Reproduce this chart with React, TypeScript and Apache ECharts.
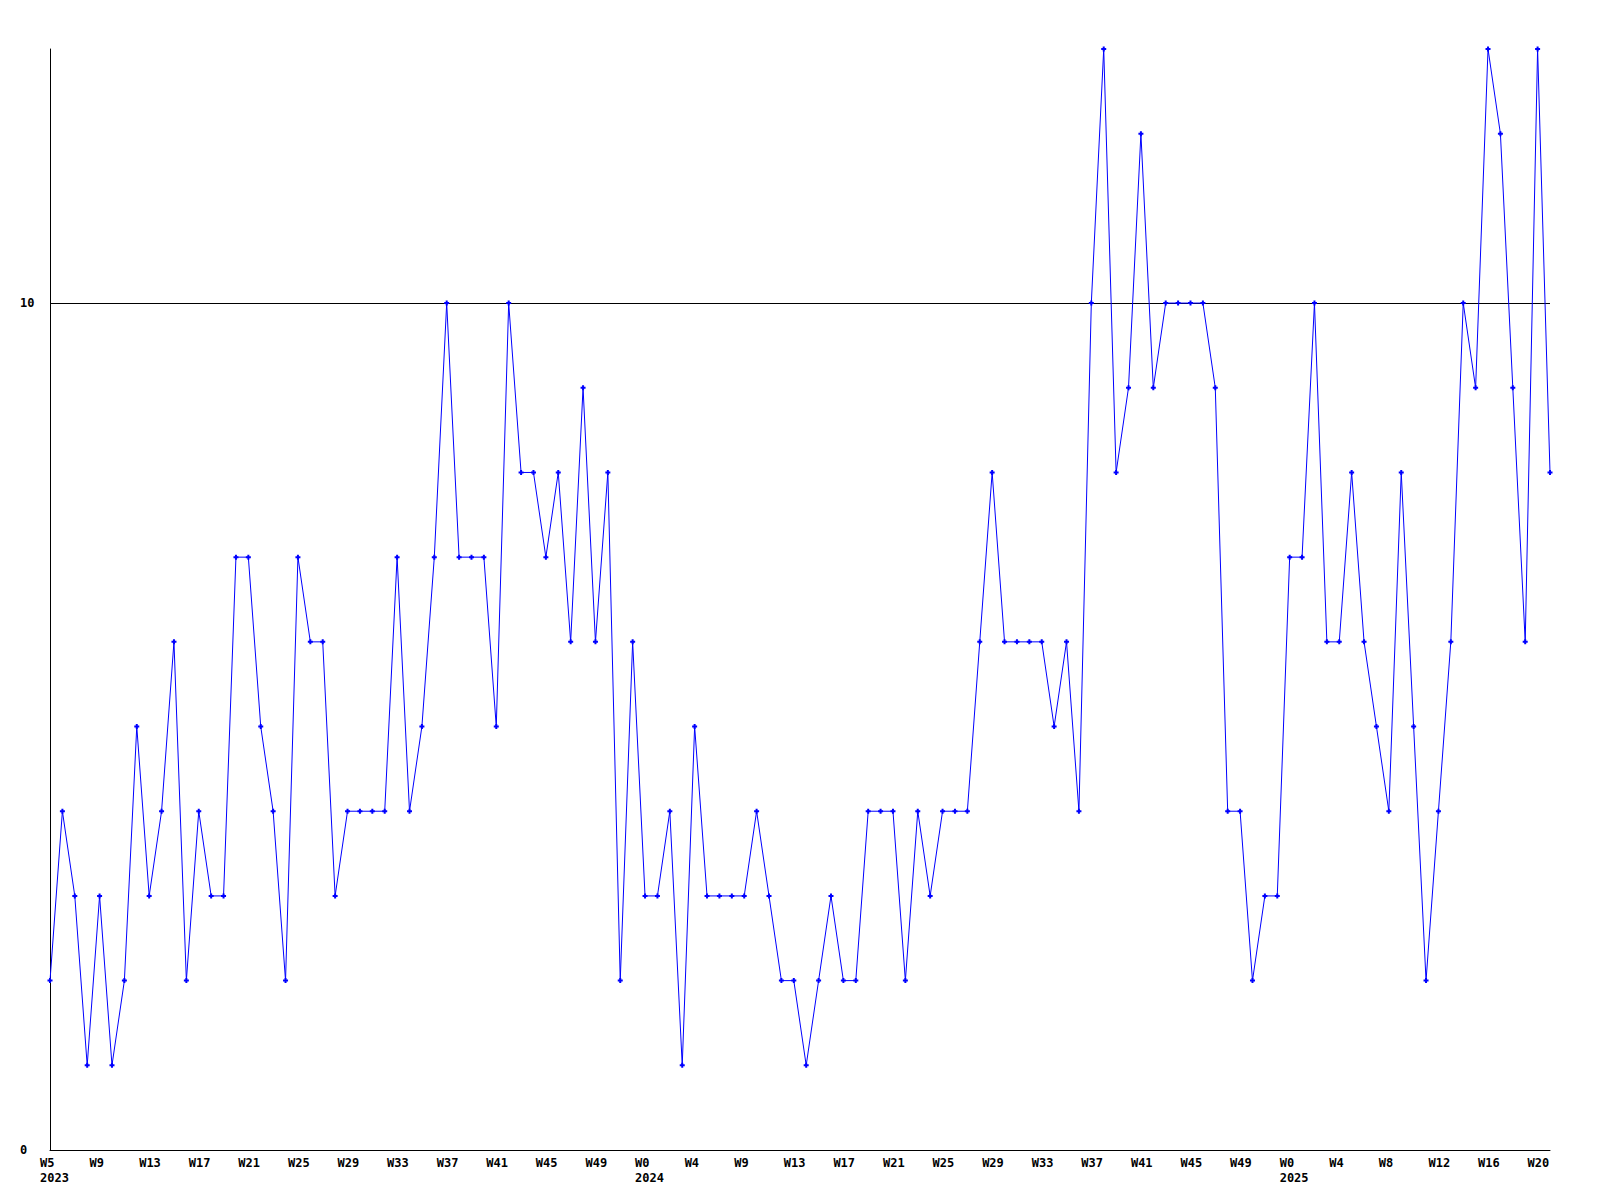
import React, { useEffect, useRef } from "react";
import * as echarts from "echarts";

// Tick labels shown every 4th week (label text, with year on a second line where present)
const tickLabels: string[] = [
  "W5\n2023", "W9", "W13", "W17", "W21", "W25", "W29", "W33", "W37", "W41", "W45", "W49",
  "W0\n2024", "W4", "W9", "W13", "W17", "W21", "W25", "W29", "W33", "W37", "W41", "W45", "W49",
  "W0\n2025", "W4", "W8", "W12", "W16", "W20",
];
const labelEvery = 4;

// Weekly values
const values: number[] = [
  2, 4, 3, 1, 3, 1, 2, 5, 3, 4,
  6, 2, 4, 3, 3, 7, 7, 5, 4, 2,
  7, 6, 6, 3, 4, 4, 4, 4, 7, 4,
  5, 7, 10, 7, 7, 7, 5, 10, 8, 8,
  7, 8, 6, 9, 6, 8, 2, 6, 3, 3,
  4, 1, 5, 3, 3, 3, 3, 4, 3, 2,
  2, 1, 2, 3, 2, 2, 4, 4, 4, 2,
  4, 3, 4, 4, 4, 6, 8, 6, 6, 6,
  6, 5, 6, 4, 10, 13, 8, 9, 12, 9,
  10, 10, 10, 10, 9, 4, 4, 2, 3, 3,
  7, 7, 10, 6, 6, 8, 6, 5, 4, 8,
  5, 2, 4, 6, 10, 9, 13, 12, 9, 6,
  13, 8,
];

const yMin = 0;
const yMax = 13;
const yInterval = 10;

const categories: string[] = values.map((_, i) =>
  i % labelEvery === 0 && tickLabels[i / labelEvery] !== undefined ? tickLabels[i / labelEvery] : ""
);

const FONT = "'DejaVu Sans Mono', monospace";

export default function App() {
  const ref = useRef<HTMLDivElement>(null);
  useEffect(() => {
    document.body.style.margin = "0";
    if (!ref.current) return;
    const chart = echarts.init(ref.current, undefined, { renderer: "svg" });
    chart.setOption({
      animation: false,
      backgroundColor: "#ffffff",
      grid: { left: 50, right: 50, top: 49, bottom: 50, containLabel: false },
      xAxis: {
        type: "category",
        data: categories,
        boundaryGap: false,
        axisLine: { show: true, lineStyle: { color: "#000", width: 1 } },
        axisTick: { show: false },
        splitLine: { show: false },
        axisLabel: {
          interval: 0,
          align: "left",
          padding: [0, 0, 0, -10],
          margin: 5,
          color: "#000",
          fontFamily: FONT,
          fontWeight: "bold",
          fontSize: 12,
          lineHeight: 15,
        },
      },
      yAxis: {
        type: "value",
        min: yMin,
        max: yMax,
        interval: yInterval,
        axisLine: { show: true, lineStyle: { color: "#000", width: 1 } },
        axisTick: { show: false },
        splitLine: {
          show: true,
          showMinLine: false,
          showMaxLine: false,
          lineStyle: { color: "#000", width: 1 },
        },
        axisLabel: {
          showMaxLabel: false,
          align: "left",
          margin: 30,
          color: "#000",
          fontFamily: FONT,
          fontWeight: "bold",
          fontSize: 12,
        },
      },
      series: [
        {
          type: "line",
          data: values,
          symbol: "path://M1.5,0H3.5V1.5H5V3.5H3.5V5H1.5V3.5H0V1.5H1.5Z",
          symbolSize: 5,
          showAllSymbol: true,
          lineStyle: { color: "#0000ff", width: 1 },
          itemStyle: { color: "#0000ff" },
        },
      ],
    });
    return () => chart.dispose();
  }, []);
  return <div ref={ref} style={{ width: 1600, height: 1200 }} />;
}
